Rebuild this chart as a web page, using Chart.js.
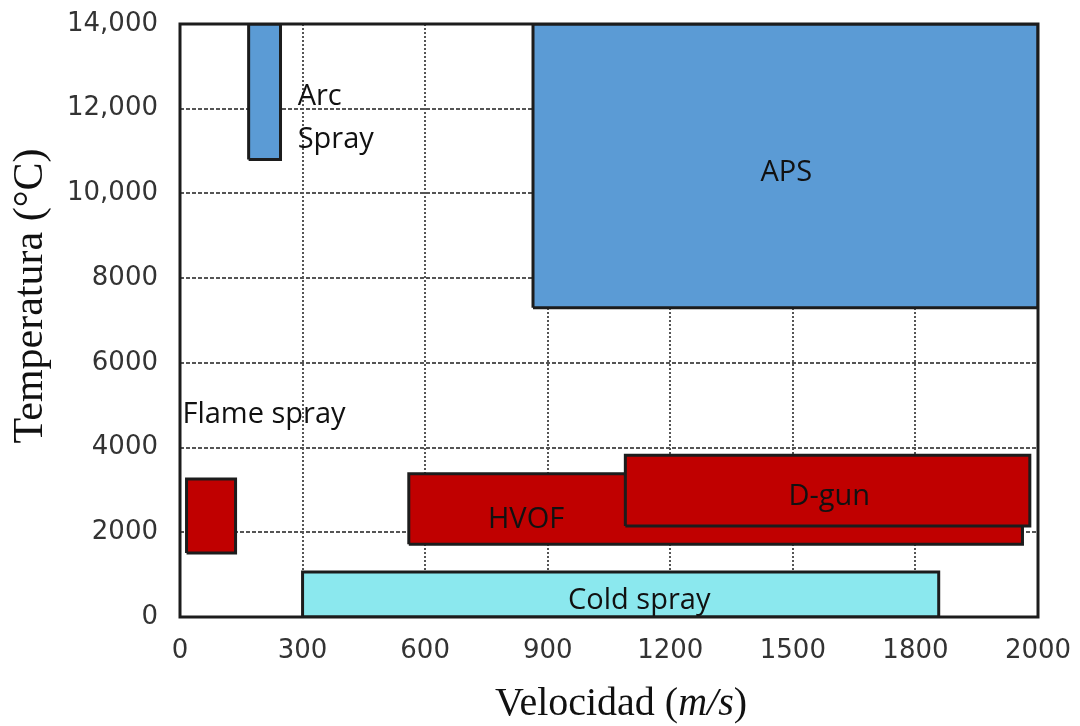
<!DOCTYPE html>
<html>
<head>
<meta charset="utf-8">
<script src="https://cdn.jsdelivr.net/npm/chart.js@4"></script>
<style>
  body { margin: 0; background: #fff; }
  #caja { width: 1080px; height: 726px; }
</style>
</head>
<body>
<div id="caja"><canvas id="grafico"></canvas></div>
<script>
// procesos de proyeccion termica (orden = orden de dibujo, el primero queda encima)
const procesos = ['Arc Spray', 'APS', 'Flame spray', 'D-gun', 'HVOF', 'Cold spray']
const velMin = [168, 864, 16, 1090, 560, 300]
const velMax = [246, 2100, 136, 2080, 2062, 1857]
const tempMin = [10800, 7300, 1510, 2150, 1720, 0]
const tempMax = [14000, 14000, 3260, 3820, 3380, 1060]
const colores = ['#5b9bd5', '#5b9bd5', '#c00000', '#c00000', '#c00000', '#8be8ee']

// textos dentro / junto a las cajas
const textos = ['Arc', 'Spray', 'APS', 'Flame spray', 'HVOF', 'D-gun', 'Cold spray']
const textoX = [288, 288, 1484, 6, 847, 1589, 1124]
const textoY = [12280, 11260, 10480, 4770, 2290, 2830, 380]
const textoAlinea = ['left', 'left', 'center', 'left', 'center', 'center', 'center']

const xTicks = ['0', '300', '600', '900', '1200', '1500', '1800', '2000']
const yTicks = ['0', '2000', '4000', '6000', '8000', '10,000', '12,000', '14,000']

const datasets = procesos.map((p, i) => {
    return {
        label: p,
        data: [
            {x: velMin[i], y: tempMin[i]},
            {x: velMax[i], y: tempMin[i]},
            {x: velMax[i], y: tempMax[i]},
            {x: velMin[i], y: tempMax[i]},
            {x: velMin[i], y: tempMin[i]}
        ],
        backgroundColor: colores[i],
        borderColor: '#1c1c1c',
        borderWidth: 3,
        borderJoinStyle: 'miter',
        fill: 'shape',
        tension: 0,
        pointRadius: 0
    }
})

const textosPlugin = {
    id: 'textos',
    afterDatasetsDraw(chart) {
        const ctx = chart.ctx
        const sx = chart.scales.x
        const sy = chart.scales.y
        ctx.save()
        ctx.font = '29px "Open Sans"'
        ctx.fillStyle = '#111'
        ctx.textBaseline = 'middle'
        textos.forEach((t, i) => {
            ctx.textAlign = textoAlinea[i]
            ctx.fillText(t, sx.getPixelForValue(textoX[i]), sy.getPixelForValue(textoY[i]))
        })
        ctx.restore()
    }
}

// marco y titulos de ejes (m/s en cursiva)
const marcoPlugin = {
    id: 'marco',
    afterDraw(chart) {
        const a = chart.chartArea
        const ctx = chart.ctx
        ctx.save()
        ctx.strokeStyle = '#1c1c1c'
        ctx.lineWidth = 3
        ctx.strokeRect(a.left, a.top, a.right - a.left, a.bottom - a.top)

        ctx.fillStyle = '#111'
        ctx.textBaseline = 'middle'
        ctx.textAlign = 'left'
        const partes = [
            ['Velocidad (', '40px "Liberation Serif"'],
            ['m/s', 'italic 40px "Liberation Serif"'],
            [')', '40px "Liberation Serif"']
        ]
        let ancho = 0
        partes.forEach(p => { ctx.font = p[1]; ancho += ctx.measureText(p[0]).width })
        let x = 621 - ancho / 2
        partes.forEach(p => {
            ctx.font = p[1]
            ctx.fillText(p[0], x, 704)
            x += ctx.measureText(p[0]).width
        })

        ctx.translate(31, 296)
        ctx.rotate(-Math.PI / 2)
        ctx.textAlign = 'center'
        ctx.font = '42px "Liberation Serif"'
        ctx.fillText('Temperatura (°C)', 0, 0)
        ctx.restore()
    }
}

const grafico = document.querySelector('#grafico')
new Chart(grafico, {
    type: 'line',
    data: {datasets},
    options: {
        responsive: true,
        maintainAspectRatio: false,
        animation: false,
        layout: {padding: {top: 24, right: 42, left: 0, bottom: 0}},
        plugins: {legend: {display: false}, tooltip: {enabled: false}},
        scales: {
            x: {
                type: 'linear',
                min: 0,
                max: 2100,
                afterFit(scale) {
                    scale.height = 109
                    scale.paddingLeft = 0
                    scale.paddingRight = 0
                },
                ticks: {
                    stepSize: 300,
                    padding: 19,
                    color: '#333',
                    font: {family: '"DejaVu Sans"', size: 26},
                    callback: (v, i) => xTicks[i]
                },
                grid: {color: '#555', lineWidth: 2, drawTicks: false},
                border: {display: false, dash: [2, 2]}
            },
            y: {
                min: 0,
                max: 14000,
                afterFit(scale) {
                    scale.width = 180
                    scale.paddingTop = 0
                    scale.paddingBottom = 0
                },
                ticks: {
                    stepSize: 2000,
                    padding: 22,
                    color: '#333',
                    font: {family: '"DejaVu Sans"', size: 26},
                    callback: (v, i) => yTicks[i]
                },
                grid: {color: '#555', lineWidth: 2, drawTicks: false},
                border: {display: false, dash: [4, 2]}
            }
        }
    },
    plugins: [textosPlugin, marcoPlugin]
})
</script>
</body>
</html>
